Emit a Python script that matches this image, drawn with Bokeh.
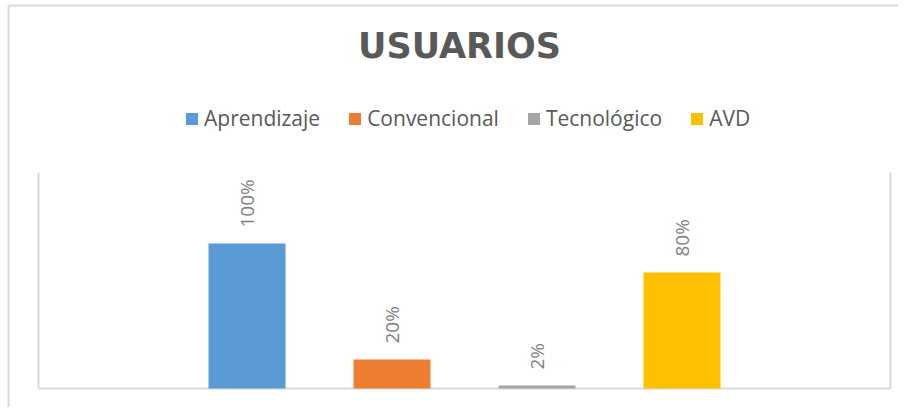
import math
from bokeh.plotting import figure
from bokeh.models import (ColumnDataSource, Range1d, Legend, LegendItem,
                          LabelSet, Label)
from bokeh.core.properties import value
from bokeh.embed import file_html
from bokeh.resources import INLINE

title_text = "USUARIOS"
series = ["Aprendizaje", "Convencional", "Tecnológico", "AVD"]
values = [1.00, 0.20, 0.02, 0.80]
value_labels = ["100%", "20%", "2%", "80%"]
colors = ["#5B9BD5", "#ED7D31", "#A5A5A5", "#FFC000"]
positions = list(range(len(series)))

# layout (pixels)
W, H = 898, 407
PX = 145.0                      # pixels per data unit
AREA_L, AREA_R, AREA_T, AREA_B = 38, 890, 172, 388   # plot area in px
x_start = -1.438 - AREA_L / PX
x_end = x_start + W / PX
y_start = -(H - AREA_B) / PX
y_end = y_start + H / PX

def dx(px):
    return x_start + px / PX

def dy(py):
    return y_end - py / PX

src = ColumnDataSource(dict(x=positions, top=values, series=series,
                            color=colors, lab=value_labels))

p = figure(width=W, height=H, output_backend="svg", toolbar_location=None,
           x_range=Range1d(x_start, x_end), y_range=Range1d(y_start, y_end),
           min_border=0, x_axis_type=None, y_axis_type=None)
p.outline_line_color = None
p.xgrid.visible = False
p.ygrid.visible = False

# chart border (left/top) and plot-area axis lines
p.segment(x0=[dx(8), dx(8)], y0=[dy(5), dy(5)], x1=[dx(8), dx(W)],
          y1=[dy(H), dy(5)], line_color="#d9d9d9", line_width=2)
p.segment(x0=[dx(AREA_L), dx(AREA_R), dx(AREA_L)],
          y0=[dy(AREA_T), dy(AREA_T), dy(AREA_B)],
          x1=[dx(AREA_L), dx(AREA_R), dx(AREA_R)],
          y1=[dy(AREA_B), dy(AREA_B), dy(AREA_B)],
          line_color="#d9d9d9", line_width=2)

r = p.vbar(x="x", top="top", width=77 / PX, color="color", source=src,
           line_color=None)

labels = LabelSet(x="x", y="top", text="lab", source=src, angle=math.pi / 2,
                  text_align="left", text_baseline="middle", y_offset=16,
                  text_font=value("Open Sans"), text_font_size="19px",
                  text_color="#808080")
p.add_layout(labels)

items = [LegendItem(label=s, renderers=[r], index=i) for i, s in enumerate(series)]
legend = Legend(items=items, orientation="horizontal", location=(184, H - 132),
                glyph_width=15, glyph_height=15, label_standoff=5, spacing=27,
                padding=0, margin=0, border_line_color=None,
                background_fill_alpha=0, label_text_font="Open Sans",
                label_text_font_size="21px", label_text_color="#595959",
                label_height=20)
p.add_layout(legend)

t = Label(x=459, y=H - 45, x_units="screen", y_units="screen", text=title_text,
          text_align="center", text_baseline="middle",
          text_font="DejaVu Sans", text_font_style="bold",
          text_font_size="35px", text_color="#595959")
p.add_layout(t)

open("out.html", "w").write(file_html(p, INLINE))
